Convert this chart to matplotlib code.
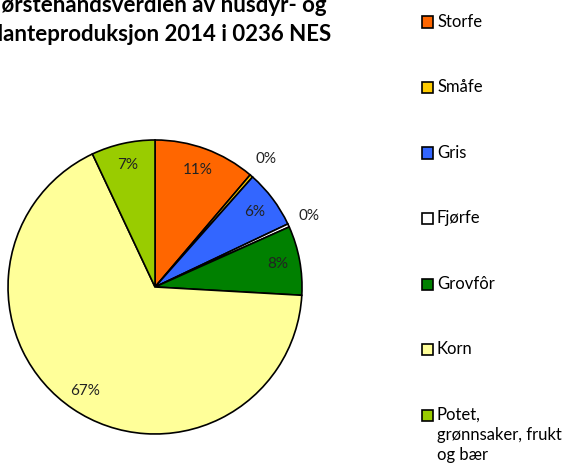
import matplotlib
matplotlib.use('Agg')
import matplotlib.pyplot as plt
from matplotlib.patches import Rectangle
import numpy as np

# data (share in percent)
labels = ['Storfe', 'Småfe', 'Gris', 'Fjørfe', 'Grovfôr', 'Korn',
          'Potet,\ngrønnsaker, frukt\nog bær']
shares = [11.2, 0.35, 6.4, 0.35, 7.6, 67.1, 7.0]
colors = ['#FF6600', '#FFCC00', '#3366FF', '#FFFFFF', '#008000', '#FFFF99', '#99CC00']
title_lines = ['Førstehandsverdien av husdyr- og', 'planteproduksjon 2014 i 0236 NES']

plt.rcParams['font.family'] = ['Lato', 'DejaVu Sans']

W, H = 569, 466
fig = plt.figure(figsize=(W / 100, H / 100), dpi=100)
ax = fig.add_axes([0.0141, 0.0687, 0.5167, 0.6309])

wedges, texts, autotexts = ax.pie(
    shares, colors=colors, startangle=90, counterclock=False,
    autopct='%1.0f%%', pctdistance=0.85,
    wedgeprops={'edgecolor': 'black', 'linewidth': 1.2},
    textprops={'fontsize': 11, 'color': '#222222'})

# tiny slices get their labels outside
for w, t, s in zip(wedges, autotexts, shares):
    if s < 1:
        ang = np.deg2rad((w.theta1 + w.theta2) / 2)
        t.set_position((1.15 * np.cos(ang), 1.15 * np.sin(ang)))

ax.set_xlim(-1, 1)
ax.set_ylim(-1, 1)
ax.set_aspect('equal')
ax.axis('off')

# title, clipped by the figure edge like in the original
for line, base in zip(title_lines, [12, 41]):
    fig.text(158 / W, 1 - base / H, line, ha='center', va='baseline',
             fontsize=16, fontweight='bold')

# legend drawn by hand, one row per category
xc = 427.5
sq = 11
for i, (lab, col) in enumerate(zip(labels, colors)):
    yc = 22 + i * 65.5
    fig.patches.append(Rectangle(((xc - sq / 2) / W, 1 - (yc + sq / 2) / H), sq / W, sq / H,
                                 transform=fig.transFigure, facecolor=col,
                                 edgecolor='black', linewidth=1.2))
    for j, part in enumerate(lab.split('\n')):
        fig.text(437 / W, 1 - (yc + 5 + j * 20) / H, part, ha='left', va='baseline',
                 fontsize=12)

fig.savefig('out.png', dpi=100)
